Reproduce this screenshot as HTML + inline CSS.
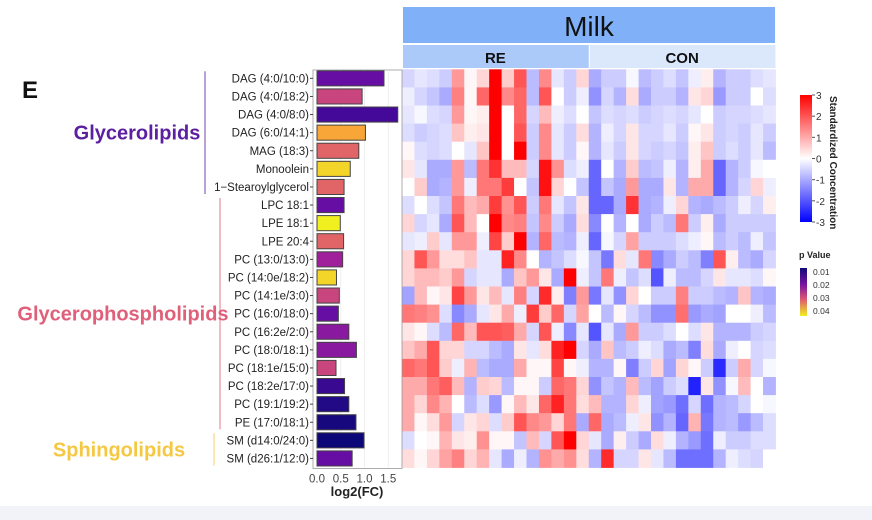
<!DOCTYPE html>
<html><head><meta charset="utf-8"><style>
body{margin:0;width:872px;height:520px;background:#fff;overflow:hidden;font-family:"Liberation Sans",sans-serif;position:relative}
</style></head><body>
<div style="position:absolute;left:0;top:506px;width:872px;height:14px;background:#f1f3f9"></div>
<svg id="chart" width="872" height="520" style="position:absolute;left:0;top:0" xmlns="http://www.w3.org/2000/svg"></svg>
<script>
const lipids=["DAG (4:0/10:0)","DAG (4:0/18:2)","DAG (4:0/8:0)","DAG (6:0/14:1)","MAG (18:3)","Monoolein","1−Stearoylglycerol","LPC 18:1","LPE 18:1","LPE 20:4","PC (13:0/13:0)","PC (14:0e/18:2)","PC (14:1e/3:0)","PC (16:0/18:0)","PC (16:2e/2:0)","PC (18:0/18:1)","PC (18:1e/15:0)","PC (18:2e/17:0)","PC (19:1/19:2)","PE (17:0/18:1)","SM (d14:0/24:0)","SM (d26:1/12:0)"];
const log2fc=[1.41,0.95,1.70,1.02,0.88,0.70,0.57,0.57,0.49,0.56,0.54,0.41,0.47,0.45,0.67,0.83,0.40,0.58,0.67,0.82,0.99,0.74];
const pvals=[0.016,0.025,0.013,0.034,0.028,0.039,0.028,0.016,0.042,0.028,0.021,0.039,0.025,0.016,0.019,0.019,0.025,0.012,0.010,0.009,0.008,0.016];
const xTicks=[0,0.5,1,1.5];
const pTicks=[0.01,0.02,0.03,0.04];
const zTicks=[3,2,1,0,-1,-2,-3];
const groups=["RE","CON"];
const heat=[
[-0.5,-0.3,-0.4,-0.6,1.2,0.1,0.5,3,0.6,2,-0.8,1.4,-0.3,-0.6,0.5,-1,-0.6,-0.6,-0.1,-0.8,-0.6,-0.4,-0.7,-0.2,0.2,-0.9,-0.6,-0.6,-0.4,-0.3],
[-0.2,-0.5,-0.7,-1,1.5,0.1,1.8,3,1.4,1.8,-0.8,2,0,-0.6,-0.2,-1.3,-0.5,-0.9,0.4,-1,-0.6,-0.6,-0.9,0.3,0.5,-1.2,-0.6,-0.6,0,-0.4],
[-0.3,-0.1,-0.4,-0.5,1.2,0.1,0.2,3,0,1.8,-0.5,0.8,-0.2,-0.4,0,-0.7,-0.4,-0.5,-0.4,-0.6,-0.5,-0.4,-0.5,-0.3,0,-0.6,-0.5,-0.5,-0.4,-0.3],
[-0.4,-0.6,-0.5,-0.4,0.7,0.2,0.3,3,0,2,-0.6,1.4,-0.3,-0.6,0.4,-0.9,-0.2,-0.5,0.3,-0.5,-0.5,-0.3,-0.6,0.1,0.3,-0.6,-0.5,-0.6,-0.3,-0.6],
[0.1,-0.4,-0.5,-0.4,0,-0.3,0.7,3,0,3,-0.6,1.4,-0.3,-0.6,0.1,-0.9,-0.3,-0.6,0.3,-0.5,-0.6,-0.5,-0.7,0.2,0.7,-0.6,-0.4,-0.6,-0.3,-0.8],
[0.3,-0.3,-1,-1,1.2,-0.8,1.6,2.4,0.8,0.8,-0.5,2.8,1.3,-0.4,-0.2,-1.8,0,-0.9,0.6,-0.8,-0.7,-0.2,-0.9,0.2,1,-1.8,-0.9,-0.6,-0.1,0],
[0,0.6,-1,-0.9,1.2,-0.2,1.6,1.6,2.3,0,-0.7,2.8,0.5,0,-0.7,-1.8,-0.7,-1,1.2,-1,-1,0.3,-0.9,1,1,-1.8,-0.9,-0.5,0.5,-0.2],
[-0.4,0,-0.4,-0.7,1.6,0.8,1,2.3,1.3,2,-0.6,1.6,-0.3,-0.7,0.3,-1.8,-1.8,-1,2.4,-1,-0.9,-0.2,0.5,-0.9,-1,-0.8,-0.6,-0.2,-0.5,0.2],
[0.5,-0.5,-0.3,-1,2,0.8,0,3,1.4,1.5,-0.7,1.4,-0.6,-1,0.4,-1.4,0,-0.9,0,-1,-0.6,-0.8,1.6,-0.6,0.2,-1,-0.6,-0.6,-0.6,-0.6],
[-0.3,-0.2,0.6,-0.3,1.2,1.2,-0.2,2.2,0.6,3,-0.9,1.8,-0.8,-0.9,-0.2,-1.8,-0.1,-0.5,1.1,-0.6,-0.6,-0.6,-0.4,-0.2,0.1,-0.8,-0.6,-0.8,-0.2,-0.7],
[0.5,2,1.2,0.4,0.4,0.7,-0.3,-0.3,2.6,1.4,0,-0.9,-0.7,-0.4,-0.1,-0.7,-1.6,0.4,-0.3,1.6,-1.4,-1,-0.6,-0.8,-1.5,2,0.2,-0.8,-1,-0.5],
[0.5,0.8,0.8,0.6,1.2,-0.5,-0.3,-0.3,-1,0.7,1.2,0.3,-1,3,-0.2,-0.7,1.6,-0.2,-0.7,-0.4,-2,-0.2,-0.8,-0.8,-0.5,0.3,-0.3,-0.3,-0.4,0.1],
[-1.1,0.8,0.1,0.3,2.2,1.2,0.3,0.8,-0.3,1.5,-0.5,2.5,0.2,-1.5,1.2,-1.6,-0.3,-1.3,0.5,0,-0.6,-0.6,1.5,-0.6,-0.6,-0.8,-0.9,0.7,-0.9,-1],
[1.6,1.5,1.3,-0.4,-1.4,-1,-0.3,0.3,1,-0.2,2.3,0.6,1.8,-0.5,1.1,0,-0.8,0.1,-0.5,-0.8,-1.3,-1.3,1.7,-1.2,-1,-1.1,0,0,-0.2,-0.8],
[0.3,0.1,-0.4,-0.8,1.8,0.8,2,2,1.9,1,-0.5,2,-0.2,-1.4,-0.3,-2,-0.3,-1,1.2,-0.6,-0.6,-0.4,0,-0.4,0.3,-0.9,-0.9,-0.9,-0.6,-0.5],
[0.7,1,2,0.5,0.5,-0.5,-0.5,-0.8,-1,0.3,-0.3,0.4,2.6,3,-0.5,-1,0.7,-0.8,-0.6,-0.2,-0.4,-1,-0.8,-1.5,0.4,-1,-0.2,0,-0.5,-0.4],
[1.8,1.6,2,0.6,-0.2,0.9,-0.8,-1,-1,1,0.1,0.1,2.2,0.1,-0.2,-0.9,-0.9,0.1,-1.5,-0.6,0.5,-1.1,0.5,0.1,-0.6,-2.5,-0.6,1,-0.5,-0.1],
[1,1,1.6,1.9,0.8,-0.9,0.6,0.5,-0.8,0.1,0.1,-0.6,1.8,1.6,0.5,-1.3,-0.7,-0.9,0.8,-0.8,-1.1,-0.6,-0.4,-2.6,0.3,-1.3,-0.1,0.8,0,-0.9],
[1,0.5,1.4,0.9,0,-0.8,-0.4,-1.2,0.1,0.8,0.3,1.8,2.6,1.6,0.4,0.8,-0.9,-0.9,0.5,-0.2,-1.1,-1.2,-1.7,-0.5,-1.7,-0.9,-0.8,-0.5,0,-0.1],
[1,0.1,0.4,1.2,-0.5,0.3,0.5,-0.4,0.6,2,1.4,1.2,0.5,1.6,-1,1.8,-1,-0.8,-0.2,0.3,-1.3,-0.9,-1.8,0.9,-1.6,-0.9,-0.8,-1.2,-0.8,-0.4],
[-0.4,0,0.1,0.9,0.3,0.2,1.3,0.1,0.1,-0.7,0.8,-0.5,2,3,0.5,-0.3,-1,0.2,-0.6,-1,0.4,-0.2,-0.9,-1.2,-1.7,-0.2,-0.6,-0.6,-0.4,-0.4],
[0.4,0.1,0.5,1.1,1.5,0.5,0.9,-0.3,-1,-0.2,-0.9,1.3,1,1.3,0.4,-0.9,2.5,-0.5,-0.5,0.3,-0.3,-0.8,-1.7,-1.7,-1.7,-0.9,-0.2,-0.4,-0.5,0]
];
const svg=document.getElementById('chart');const NS="http://www.w3.org/2000/svg";
function mk(t,a,txt){const e=document.createElementNS(NS,t);for(const k in a)e.setAttribute(k,a[k]);if(txt!==undefined)e.textContent=txt;svg.appendChild(e);return e;}
const rowTop=69.3,rowH=18.1;
const rowY=i=>rowTop+i*rowH;
const hx0=402,colW=12.45;
const colX=j=>hx0+j*colW;
const bx0=317,bUnit=47.5;
const xb=v=>bx0+v*bUnit;
function zColor(v){v=Math.max(-3,Math.min(3,v));const t=Math.abs(v)/3;
 if(v>=0){return `rgb(255,${Math.round(255*(1-t))},${Math.round(255*(1-t))})`;}
 return `rgb(${Math.round(255*(1-t))},${Math.round(255*(1-t))},255)`;}
const pStops=[[0.008,[12,8,120]],[0.015,[90,10,165]],[0.021,[160,32,155]],[0.027,[220,88,112]],[0.033,[248,157,58]],[0.042,[240,240,32]]];
function pColor(p){if(p<=pStops[0][0])return `rgb(${pStops[0][1]})`;
 for(let i=1;i<pStops.length;i++){if(p<=pStops[i][0]){const a=pStops[i-1],b=pStops[i];const t=(p-a[0])/(b[0]-a[0]);return `rgb(${a[1].map((c,k)=>Math.round(c+(b[1][k]-c)*t)).join(',')})`;}}
 return `rgb(${pStops[pStops.length-1][1]})`;}
let e=mk('rect',{x:403,y:7,width:372,height:36,fill:'#7fb0f8'});

e=mk('text',{x:589,y:36,'text-anchor':'middle','font-size':28,fill:'#111'},'Milk');

groups.forEach((g,gi)=>{
 const r=mk('rect',{x:colX(gi*15)+1,y:45,width:15*colW-1,height:23,fill:gi?'#dbe8fc':'#abcaf9'});
 
 const t=mk('text',{x:colX(gi*15)+15*colW/2,y:63,'text-anchor':'middle','font-size':15,'font-weight':'bold',fill:'#111'},g);
 
});
heat.forEach((row,i)=>row.forEach((v,j)=>{
 const c=mk('rect',{x:colX(j),y:rowY(i),width:colW+0.4,height:rowH+0.4,fill:zColor(v)});
 
 
}));
e=mk('rect',{x:313,y:70,width:89,height:rowY(lipids.length)-70+1,fill:'#fff',stroke:'#999','stroke-width':0.8});

xTicks.forEach(t=>{const g=mk('line',{x1:xb(t),x2:xb(t),y1:70,y2:rowY(lipids.length),stroke:'#ebebeb','stroke-width':0.8});
 const tl=mk('text',{x:xb(t),y:rowY(lipids.length)+15,'text-anchor':'middle','font-size':11.5,fill:'#444'},t===0?'0.0':t.toFixed(1));});
lipids.forEach((n,i)=>{
 const yc=rowY(i)+rowH/2;
 const b=mk('rect',{x:bx0,y:rowY(i)+1.5,width:xb(log2fc[i])-bx0,height:rowH-3,fill:pColor(pvals[i]),stroke:'#444','stroke-width':1});
 
 
 const l=mk('text',{x:309,y:yc+4,'text-anchor':'end','font-size':11.5,fill:'#222'},n);
 
 
 mk('line',{x1:310,x2:313,y1:yc,y2:yc,stroke:'#444'});
});
e=mk('text',{x:357,y:496,'text-anchor':'middle','font-size':13,'font-weight':'bold',fill:'#222'},'log2(FC)');

e=mk('text',{x:22,y:98,'font-size':24,'font-weight':'bold',fill:'#111'},'E');
const grp=[["Glycerolipids",0,6,'#5b1fa0',205,20,137],["Glycerophospholipids",7,19,'#e0607a',220,20,123],["Sphingolipids",20,21,'#f5c842',214,20,119]];
grp.forEach(g=>{const y1=rowY(g[1])+2,y2=rowY(g[2]+1)-2;
 const ln=mk('line',{x1:g[4],x2:g[4],y1:y1,y2:y2,stroke:g[3],'stroke-width':1.2,opacity:0.7});
 const t=mk('text',{x:g[6],y:(y1+y2)/2+7,'text-anchor':'middle','font-size':g[5],'font-weight':'bold',fill:g[3]},g[0]);});
const defs=mk('defs',{});
defs.innerHTML='<linearGradient id="zg" x1="0" y1="0" x2="0" y2="1"><stop offset="0" stop-color="#ff0000"/><stop offset="0.5" stop-color="#ffffff"/><stop offset="1" stop-color="#0000ff"/></linearGradient><linearGradient id="pg" x1="0" y1="0" x2="0" y2="1"><stop offset="0" stop-color="#10087a"/><stop offset="0.35" stop-color="#7a14a0"/><stop offset="0.65" stop-color="#dc5870"/><stop offset="1" stop-color="#f0f020"/></linearGradient>';
e=mk('rect',{x:800,y:95,width:12,height:127,fill:'url(#zg)'});
zTicks.forEach((t,i)=>{const y=95+i*127/6;mk('line',{x1:812,x2:815,y1:y,y2:y,stroke:'#555'});const tl=mk('text',{x:816,y:y+4,'font-size':10,fill:'#333'},String(t));});
e=mk('text',{x:0,y:0,'font-size':10,'font-weight':'bold',fill:'#222',transform:'translate(830,96) rotate(90)'},'Standardized Concentration');
e=mk('text',{x:799,y:258,'font-size':9,'font-weight':'bold',fill:'#222'},'p Value');
e=mk('rect',{x:800,y:268,width:7,height:48,fill:'url(#pg)'});
pTicks.forEach((t,i)=>{const tl=mk('text',{x:813,y:275+i*13,'font-size':8.5,fill:'#333'},String(t));});
</script>
</body></html>
